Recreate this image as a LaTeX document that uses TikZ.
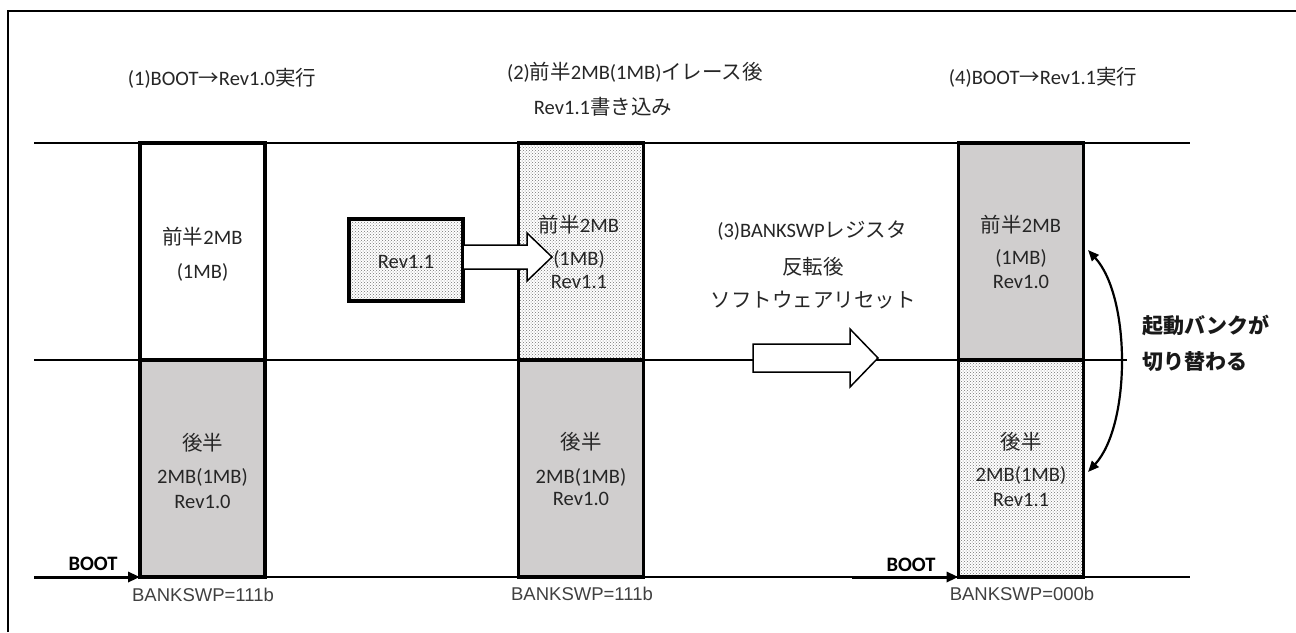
\documentclass[tikz,border=0pt]{standalone}
\usepackage{fontspec}
\setmainfont{Carlito}
\newfontfamily\jpf{Noto Sans CJK JP}
\newfontfamily\arialf{Liberation Sans}
\newcommand\J[1]{{\jpf #1}}
\usetikzlibrary{patterns,arrows.meta}
\definecolor{gbank}{HTML}{D0CECE}
\begin{document}
\begin{tikzpicture}[x=1pt,y=-1pt,
  every node/.style={font=\fontsize{20.5}{24}\selectfont, text=black!85, inner sep=0pt},
  half/.style={draw, line width=3.5pt, minimum width=125pt, minimum height=217pt, inner sep=0pt, outer sep=0pt},
  grayfill/.style={fill=gbank},
  dotfill/.style={preaction={fill=white}, pattern=crosshatch dots, pattern color=black!55},
  thinline/.style={line width=2pt},
  blockarrow/.style={draw, line width=1.5pt, fill=white, line join=miter},
  bootarrow/.style={line width=3pt, -{Triangle[length=12pt,width=10pt]}},
  swaparrow/.style={line width=2.2pt, {Triangle[length=11pt,width=9pt]}-{Triangle[length=11pt,width=9pt]}},
  bswp/.style={font=\arialf\fontsize{18.5}{22}\selectfont, text=black!75},
  bootlbl/.style={font=\bfseries\fontsize{20.5}{24}\selectfont, text=black},
  swlbl/.style={anchor=west, font=\jpf\bfseries\fontsize{21}{25}\selectfont, text=black!90},
]
\useasboundingbox (0,0) rectangle (1296,632);
\fill[white] (0,0) rectangle (1296,632);
% frame (only left and top edges visible)
\draw[thinline] (8,632) -- (8,11) -- (1296,11);

% horizontal reference lines
\coordinate (ltop) at (34,143);
\coordinate (rtop) at (1190,143);
\coordinate (lmid) at (34,360);
\coordinate (rmid) at (1127,360);
\coordinate (lbot) at (34,577);
\coordinate (rbot) at (1190,577);
\draw[thinline] (ltop) -- (rtop);
\draw[thinline] (lmid) -- (rmid);
\draw[thinline] (lbot) -- (rbot);

% titles
\node (t1) at (222,78) {(1)BOOT\J{→}Rev1.0\J{実行}};
\node (t2a) at (635,72) {(2)\J{前半}2MB(1MB)\J{イレース後}};
\node (t2b) at (603,107) {Rev1.1\J{書き込み}};
\node (t4) at (1043,77) {(4)BOOT\J{→}Rev1.1\J{実行}};

% column 1
\node[half, fill=white] (c1t) at (202.5,251.5) {};
\node[half, grayfill] (c1b) at (202.5,468.5) {};
% column 2
\node[half, dotfill] (c2t) at (581,251.5) {};
\node[half, grayfill] (c2b) at (581,468.5) {};
% column 3
\node[half, grayfill] (c3t) at (1021,251.5) {};
\node[half, dotfill] (c3b) at (1021,468.5) {};

% column 1 texts
\node (c1t1) at (202.5,237) {\J{前半}2MB};
\node (c1t2) at (202.5,272) {(1MB)};
\node (c1b1) at (202.5,443) {\J{後半}};
\node (c1b2) at (202.5,477) {2MB(1MB)};
\node (c1b3) at (202.5,502) {Rev1.0};

% Rev1.1 box and block arrow
\node[draw, line width=3.5pt, dotfill, minimum width=114pt, minimum height=82pt, outer sep=0pt] (rev) at (406,260) {};
\node (revt) at (406,262) {Rev1.1};
\draw[blockarrow] (rev.east) ++(0,-15) -- ++(64,0) -- ++(0,-12) -- ++(25,24) -- ++(-25,24) -- ++(0,-12) -- ++(-64,0) -- cycle;

% column 2 texts
\node (c2t1) at (579,225) {\J{前半}2MB};
\node (c2t2) at (579,259) {(1MB)};
\node (c2t3) at (579,282) {Rev1.1};
\node (c2b1) at (581,442) {\J{後半}};
\node (c2b2) at (581,477) {2MB(1MB)};
\node (c2b3) at (581,499) {Rev1.0};

% step (3) texts and block arrow
\node (s3a) at (812,231) {(3)BANKSWP\J{レジスタ}};
\node (s3b) at (813,267) {\J{反転後}};
\node (s3c) at (813,300) {\J{ソフトウェアリセット}};
\coordinate (ba2) at (753,358);
\draw[blockarrow] (ba2) ++(0,-14) -- ++(97,0) -- ++(0,-15) -- ++(28,29) -- ++(-28,29) -- ++(0,-15) -- ++(-97,0) -- cycle;

% column 3 texts
\node (c3t1) at (1021,225) {\J{前半}2MB};
\node (c3t2) at (1021,258) {(1MB)};
\node (c3t3) at (1021,282) {Rev1.0};
\node (c3b1) at (1021,442) {\J{後半}};
\node (c3b2) at (1021,475) {2MB(1MB)};
\node (c3b3) at (1021,500) {Rev1.1};

% swap arrow and label
\draw[swaparrow] ([xshift=4.5pt,yshift=1.5pt]c3t.east) .. controls +(43,47) and +(43,-47) .. ([xshift=4.5pt,yshift=-3.5pt]c3b.east);
\node[swlbl] (sw1) at (1142,325) {起動バンクが};
\node[swlbl] (sw2) at (1142,362) {切り替わる};

% BOOT arrows
\coordinate (boot1) at (34,577);
\coordinate (boot2) at (852,577);
\draw[bootarrow] (boot1) -- (c1b.south west);
\draw[bootarrow] (boot2) -- (c3b.south west);
\node[bootlbl] (b1l) at (93,564) {BOOT};
\node[bootlbl] (b2l) at (911,565) {BOOT};

% BANKSWP labels
\node[bswp] (k1) at (203,595) {BANKSWP=111b};
\node[bswp] (k2) at (582,594) {BANKSWP=111b};
\node[bswp] (k3) at (1022,594) {BANKSWP=000b};
\end{tikzpicture}
\end{document}
